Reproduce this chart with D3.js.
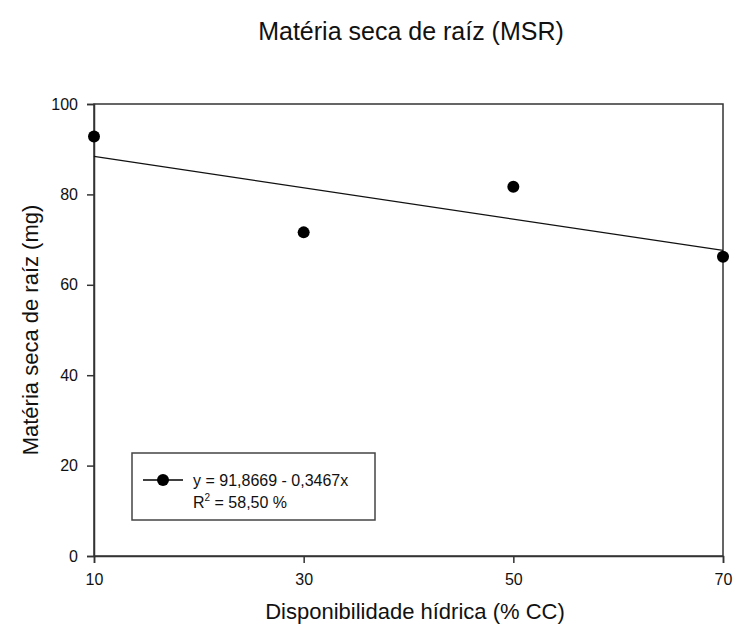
<!DOCTYPE html>
<html>
<head>
<meta charset="utf-8">
<script src="https://cdn.jsdelivr.net/npm/d3@7"></script>
<style>
  body { margin: 0; background: #fff; }
  text { font-family: Arial, "Liberation Sans", sans-serif; fill: #111; }
</style>
</head>
<body>
<div id="chart"></div>
<script>
// data
const waterLevels = [10, 30, 50, 70];          // Disponibilidade hídrica (% CC)
const rootDryMass = [92.8, 71.6, 81.7, 66.2];  // MSR (mg)
const xTicks = [10, 30, 50, 70];
const yTicks = [0, 20, 40, 60, 80, 100];
const fitIntercept = 91.8669, fitSlope = -0.3467;
const legendLines = ["y = 91,8669 - 0,3467x", "R", " = 58,50 %"];

const width = 734, height = 629;
const margin = { top: 104, right: 11, bottom: 73, left: 94 };

const svg = d3.select("#chart").append("svg")
  .attr("width", width)
  .attr("height", height);

const x = d3.scaleLinear().domain([10, 70]).range([margin.left, width - margin.right]);
const y = d3.scaleLinear().domain([0, 100]).range([height - margin.bottom, margin.top]);

// frame
svg.append("rect")
  .attr("x", x(10)).attr("y", y(100))
  .attr("width", x(70) - x(10)).attr("height", y(0) - y(100))
  .attr("fill", "none").attr("stroke", "#333").attr("stroke-width", 1.5);

const xAxis = svg.append("g")
  .attr("transform", `translate(0,${y(0)})`)
  .call(d3.axisBottom(x).tickValues(xTicks).tickSize(7).tickPadding(11));
const yAxis = svg.append("g")
  .attr("transform", `translate(${x(10)},0)`)
  .call(d3.axisLeft(y).tickValues(yTicks).tickSize(7).tickPadding(9));

[xAxis, yAxis].forEach(g => {
  g.select(".domain").attr("stroke", "#333").attr("stroke-width", 1.5);
  g.selectAll(".tick line").attr("stroke", "#333").attr("stroke-width", 1.5);
  g.selectAll(".tick text").style("font-size", "16px").attr("fill", "#111");
});

// regression line
svg.append("line")
  .attr("x1", x(10)).attr("y1", y(fitIntercept + fitSlope * 10))
  .attr("x2", x(70)).attr("y2", y(fitIntercept + fitSlope * 70))
  .attr("stroke", "#111").attr("stroke-width", 1.2);

// points
svg.append("g").selectAll("circle")
  .data(waterLevels.map((d, i) => [d, rootDryMass[i]]))
  .join("circle")
  .attr("cx", d => x(d[0]))
  .attr("cy", d => y(d[1]))
  .attr("r", 6)
  .attr("fill", "#000");

// legend
const lg = svg.append("g").attr("transform", "translate(132,453)");
lg.append("rect").attr("width", 243).attr("height", 67)
  .attr("fill", "#fff").attr("stroke", "#444").attr("stroke-width", 1.5);
lg.append("line").attr("x1", 11).attr("x2", 51).attr("y1", 27).attr("y2", 27)
  .attr("stroke", "#000").attr("stroke-width", 1.5);
lg.append("circle").attr("cx", 31).attr("cy", 27).attr("r", 6).attr("fill", "#000");
lg.append("text").attr("x", 61).attr("y", 33).style("font-size", "16px").text(legendLines[0]);
const r2 = lg.append("text").attr("x", 61).attr("y", 55).style("font-size", "16px");
r2.append("tspan").text(legendLines[1]);
r2.append("tspan").attr("dy", -7).style("font-size", "10px").text("2");
r2.append("tspan").attr("dy", 7).text(legendLines[2]);

// titles
svg.append("text")
  .attr("x", 411).attr("y", 40)
  .attr("text-anchor", "middle")
  .style("font-size", "25px")
  .text("Matéria seca de raíz (MSR)");

svg.append("text")
  .attr("x", 415).attr("y", 619)
  .attr("text-anchor", "middle")
  .style("font-size", "22px")
  .text("Disponibilidade hídrica (% CC)");

svg.append("text")
  .attr("transform", `translate(38,${(y(0) + y(100)) / 2}) rotate(-90)`)
  .attr("text-anchor", "middle")
  .style("font-size", "22px")
  .text("Matéria seca de raíz (mg)");
</script>
</body>
</html>
